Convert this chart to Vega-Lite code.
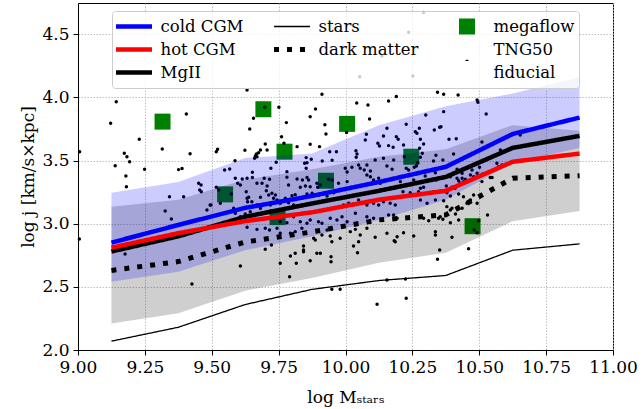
{
"$schema":"https://vega.github.io/schema/vega-lite/v6.json",
"width":535,"height":347,
"autosize":{"type":"none"},
"padding":{"left":78,"top":3,"right":29,"bottom":59},
"config":{
 "font":"DejaVu Serif",
 "view":{"stroke":"black","strokeWidth":1},
 "axis":{"labelFont":"DejaVu Serif","titleFont":"DejaVu Serif","labelFontSize":17,"titleFontSize":17,"titleFontWeight":"normal","labelColor":"black","titleColor":"black","domainColor":"black","tickColor":"black","tickSize":5,"gridColor":"#b0b0b0","gridDash":[1.5,1.5],"gridWidth":0.8,"labelPadding":4,"labelOverlap":false,"labelFlush":false,"labelBound":false}
},
"datasets":{
"megaflow":[
{"series":"megaflow","logM":9.316,"logj":3.808},
{"series":"megaflow","logM":9.693,"logj":3.906},
{"series":"megaflow","logM":9.772,"logj":3.57},
{"series":"megaflow","logM":10.006,"logj":3.79},
{"series":"megaflow","logM":10.246,"logj":3.53},
{"series":"megaflow","logM":9.927,"logj":3.34},
{"series":"megaflow","logM":9.55,"logj":3.232},
{"series":"megaflow","logM":9.746,"logj":3.052},
{"series":"megaflow","logM":10.475,"logj":2.98}
],
"tng":[
{"logM":9.006,"logj":3.57},{"logM":9.143,"logj":3.966},{"logM":9.122,"logj":3.795},{"logM":9.139,"logj":3.459},{"logM":9.173,"logj":3.557},{"logM":9.183,"logj":3.53},{"logM":9.193,"logj":3.491},{"logM":9.179,"logj":3.378},{"logM":9.181,"logj":3.293},{"logM":9.229,"logj":3.668},
{"logM":9.249,"logj":3.431},{"logM":9.315,"logj":3.591},{"logM":9.405,"logj":3.869},{"logM":9.419,"logj":3.554},{"logM":9.376,"logj":3.428},{"logM":9.389,"logj":3.436},{"logM":9.455,"logj":3.267},{"logM":9.461,"logj":3.253},{"logM":9.517,"logj":3.57},{"logM":9.522,"logj":3.589},
{"logM":9.548,"logj":3.425},{"logM":9.567,"logj":3.433},{"logM":9.587,"logj":3.499},{"logM":9.632,"logj":4.059},{"logM":9.642,"logj":3.75},{"logM":9.656,"logj":3.834},{"logM":9.667,"logj":3.552},{"logM":9.675,"logj":3.562},{"logM":9.682,"logj":3.583},{"logM":9.7,"logj":3.631},
{"logM":9.698,"logj":3.922},{"logM":9.751,"logj":3.922},{"logM":9.761,"logj":3.689},{"logM":9.779,"logj":3.8},{"logM":9.741,"logj":3.486},{"logM":9.819,"logj":3.61},{"logM":9.868,"logj":3.847},{"logM":9.888,"logj":3.908},{"logM":9.868,"logj":3.629},{"logM":9.847,"logj":3.478},
{"logM":9.853,"logj":3.523},{"logM":9.342,"logj":3.214},{"logM":9.395,"logj":3.214},{"logM":9.497,"logj":3.148},{"logM":9.517,"logj":3.288},{"logM":9.526,"logj":3.267},{"logM":9.588,"logj":3.359},{"logM":9.597,"logj":3.32},{"logM":9.573,"logj":3.235},{"logM":9.912,"logj":4.025},
{"logM":10.19,"logj":4.006},{"logM":10.042,"logj":3.956},{"logM":10.084,"logj":3.94},{"logM":10.161,"logj":3.971},{"logM":10.09,"logj":3.829},{"logM":9.923,"logj":3.784},{"logM":10.004,"logj":3.721},{"logM":9.927,"logj":3.71},{"logM":10.155,"logj":3.755},{"logM":10.078,"logj":3.708},
{"logM":10.074,"logj":3.663},{"logM":10.142,"logj":3.694},{"logM":10.19,"logj":3.689},{"logM":10.197,"logj":3.668},{"logM":9.77,"logj":3.637},{"logM":9.903,"logj":3.61},{"logM":10.121,"logj":3.637},{"logM":10.127,"logj":3.615},{"logM":10.161,"logj":3.618},{"logM":10.178,"logj":3.605},
{"logM":9.624,"logj":3.581},{"logM":9.663,"logj":3.536},{"logM":9.66,"logj":3.518},{"logM":9.941,"logj":3.57},{"logM":9.966,"logj":3.57},{"logM":10.039,"logj":3.578},{"logM":10.043,"logj":3.552},{"logM":10.04,"logj":3.526},{"logM":9.721,"logj":3.439},{"logM":9.856,"logj":3.483},
{"logM":9.872,"logj":3.51},{"logM":9.913,"logj":3.496},{"logM":9.95,"logj":3.502},{"logM":9.853,"logj":3.439},{"logM":9.652,"logj":3.407},{"logM":9.652,"logj":3.365},{"logM":9.696,"logj":3.359},{"logM":9.716,"logj":3.352},{"logM":9.781,"logj":3.412},{"logM":9.781,"logj":3.367},
{"logM":9.819,"logj":3.354},{"logM":9.839,"logj":3.346},{"logM":9.856,"logj":3.365},{"logM":9.862,"logj":3.346},{"logM":9.999,"logj":3.439},{"logM":10.006,"logj":3.409},{"logM":10.024,"logj":3.447},{"logM":10.049,"logj":3.465},{"logM":10.055,"logj":3.439},{"logM":10.07,"logj":3.425},
{"logM":10.08,"logj":3.465},{"logM":10.093,"logj":3.417},{"logM":10.111,"logj":3.504},{"logM":10.142,"logj":3.518},{"logM":10.155,"logj":3.457},{"logM":10.174,"logj":3.431},{"logM":10.18,"logj":3.504},{"logM":10.08,"logj":3.386},{"logM":10.093,"logj":3.372},{"logM":10.105,"logj":3.346},
{"logM":10.124,"logj":3.359},{"logM":10.13,"logj":3.32},{"logM":9.614,"logj":3.354},{"logM":9.607,"logj":3.306},{"logM":9.707,"logj":3.298},{"logM":9.787,"logj":3.306},{"logM":9.831,"logj":3.288},{"logM":9.85,"logj":3.298},{"logM":9.868,"logj":3.293},{"logM":9.893,"logj":3.32},
{"logM":9.896,"logj":3.288},{"logM":9.906,"logj":3.306},{"logM":9.937,"logj":3.352},{"logM":9.95,"logj":3.346},{"logM":10.006,"logj":3.333},{"logM":9.974,"logj":3.32},{"logM":10.344,"logj":4.04},{"logM":10.367,"logj":4.025},{"logM":10.421,"logj":4.019},{"logM":10.492,"logj":3.979},
{"logM":10.495,"logj":3.961},{"logM":10.3,"logj":3.861},{"logM":10.367,"logj":3.887},{"logM":10.526,"logj":3.869},{"logM":10.227,"logj":3.787},{"logM":10.276,"logj":3.755},{"logM":10.261,"logj":3.728},{"logM":10.267,"logj":3.716},{"logM":10.332,"logj":3.742},{"logM":10.352,"logj":3.763},
{"logM":10.357,"logj":3.768},{"logM":10.28,"logj":3.668},{"logM":10.292,"logj":3.631},{"logM":10.217,"logj":3.623},{"logM":10.387,"logj":3.668},{"logM":10.414,"logj":3.673},{"logM":10.51,"logj":3.647},{"logM":10.277,"logj":3.597},{"logM":10.287,"logj":3.557},{"logM":10.28,"logj":3.526},
{"logM":10.27,"logj":3.483},{"logM":10.265,"logj":3.457},{"logM":10.257,"logj":3.447},{"logM":10.338,"logj":3.541},{"logM":10.329,"logj":3.496},{"logM":10.364,"logj":3.504},{"logM":10.404,"logj":3.552},{"logM":10.579,"logj":3.584},{"logM":10.653,"logj":3.702},{"logM":10.227,"logj":3.439},
{"logM":10.236,"logj":3.425},{"logM":10.22,"logj":3.53},{"logM":10.255,"logj":3.346},{"logM":10.286,"logj":3.333},{"logM":10.298,"logj":3.378},{"logM":10.336,"logj":3.404},{"logM":10.339,"logj":3.346},{"logM":10.205,"logj":3.333},{"logM":10.417,"logj":3.431},{"logM":10.429,"logj":3.412},
{"logM":10.454,"logj":3.439},{"logM":10.473,"logj":3.425},{"logM":10.467,"logj":3.386},{"logM":10.436,"logj":3.359},{"logM":10.423,"logj":3.34},{"logM":10.441,"logj":3.333},{"logM":10.479,"logj":3.372},{"logM":10.501,"logj":3.447},{"logM":10.514,"logj":3.394},{"logM":10.566,"logj":3.478},
{"logM":10.585,"logj":3.465},{"logM":10.541,"logj":3.365},{"logM":10.51,"logj":3.333},{"logM":10.377,"logj":3.298},{"logM":10.398,"logj":3.288},{"logM":10.41,"logj":3.28},{"logM":10.292,"logj":3.288},{"logM":10.28,"logj":3.28},{"logM":9.632,"logj":3.201},{"logM":9.682,"logj":3.209},
{"logM":9.713,"logj":3.227},{"logM":9.725,"logj":3.241},{"logM":9.738,"logj":3.227},{"logM":9.731,"logj":3.201},{"logM":9.8,"logj":3.222},{"logM":9.812,"logj":3.23},{"logM":9.856,"logj":3.235},{"logM":9.875,"logj":3.241},{"logM":9.899,"logj":3.227},{"logM":9.918,"logj":3.241},
{"logM":9.931,"logj":3.219},{"logM":9.956,"logj":3.245},{"logM":9.775,"logj":3.201},{"logM":9.787,"logj":3.166},{"logM":9.756,"logj":3.162},{"logM":9.806,"logj":3.148},{"logM":9.993,"logj":3.148},{"logM":10.012,"logj":3.162},{"logM":10.03,"logj":3.156},{"logM":10.049,"logj":3.188},
{"logM":10.08,"logj":3.148},{"logM":10.105,"logj":3.162},{"logM":10.124,"logj":3.148},{"logM":10.142,"logj":3.174},{"logM":10.167,"logj":3.162},{"logM":10.186,"logj":3.148},{"logM":9.632,"logj":3.024},{"logM":9.663,"logj":3.035},{"logM":9.707,"logj":3.043},{"logM":9.781,"logj":3.008},
{"logM":9.806,"logj":3.055},{"logM":9.831,"logj":3.016},{"logM":9.856,"logj":3.003},{"logM":9.868,"logj":3.029},{"logM":9.899,"logj":3.016},{"logM":9.912,"logj":3.003},{"logM":9.943,"logj":3.043},{"logM":9.968,"logj":3.029},{"logM":9.987,"logj":3.055},{"logM":10.006,"logj":3.016},
{"logM":10.037,"logj":3.082},{"logM":10.08,"logj":3.055},{"logM":10.105,"logj":3.043},{"logM":10.161,"logj":3.069},{"logM":10.18,"logj":3.069},{"logM":10.193,"logj":3.043},{"logM":9.632,"logj":2.971},{"logM":9.669,"logj":2.955},{"logM":9.7,"logj":2.963},{"logM":9.756,"logj":2.924},
{"logM":9.794,"logj":2.924},{"logM":9.812,"logj":2.937},{"logM":9.881,"logj":2.884},{"logM":9.912,"logj":2.911},{"logM":9.931,"logj":2.95},{"logM":9.943,"logj":2.903},{"logM":9.949,"logj":2.857},{"logM":9.98,"logj":2.884},{"logM":10.018,"logj":2.937},{"logM":10.037,"logj":2.955},
{"logM":10.055,"logj":2.911},{"logM":10.08,"logj":2.963},{"logM":10.111,"logj":2.892},{"logM":10.155,"logj":2.924},{"logM":10.186,"logj":2.857},{"logM":10.193,"logj":2.897},{"logM":9.7,"logj":2.797},{"logM":9.843,"logj":2.823},{"logM":9.843,"logj":2.778},{"logM":9.893,"logj":2.766},
{"logM":9.794,"logj":2.744},{"logM":9.816,"logj":2.686},{"logM":9.868,"logj":2.707},{"logM":9.946,"logj":2.739},{"logM":9.946,"logj":2.699},{"logM":10.045,"logj":2.77},{"logM":10.03,"logj":2.823},{"logM":10.049,"logj":2.857},{"logM":10.182,"logj":2.865},{"logM":9.756,"logj":2.686},
{"logM":9.791,"logj":2.58},{"logM":9.607,"logj":2.665},{"logM":9.949,"logj":2.481},{"logM":9.98,"logj":2.481},{"logM":10.155,"logj":2.554},{"logM":10.215,"logj":3.253},{"logM":10.242,"logj":3.245},{"logM":10.261,"logj":3.227},{"logM":10.273,"logj":3.253},{"logM":10.292,"logj":3.235},
{"logM":10.311,"logj":3.241},{"logM":10.329,"logj":3.253},{"logM":10.354,"logj":3.259},{"logM":10.379,"logj":3.245},{"logM":10.28,"logj":3.188},{"logM":10.305,"logj":3.162},{"logM":10.336,"logj":3.188},{"logM":10.367,"logj":3.182},{"logM":10.392,"logj":3.219},{"logM":10.423,"logj":3.235},
{"logM":10.441,"logj":3.214},{"logM":10.454,"logj":3.162},{"logM":10.479,"logj":3.227},{"logM":10.379,"logj":3.135},{"logM":10.398,"logj":3.122},{"logM":10.436,"logj":3.122},{"logM":10.292,"logj":3.043},{"logM":10.348,"logj":3.043},{"logM":10.392,"logj":3.008},{"logM":10.423,"logj":3.029},
{"logM":10.311,"logj":3.024},{"logM":10.364,"logj":3.035},{"logM":10.217,"logj":2.929},{"logM":10.255,"logj":2.903},{"logM":10.336,"logj":2.937},{"logM":10.336,"logj":2.911},{"logM":10.398,"logj":2.892},{"logM":10.531,"logj":3.069},{"logM":10.498,"logj":3.024},{"logM":10.492,"logj":2.929},
{"logM":10.481,"logj":2.95},{"logM":10.352,"logj":2.792},{"logM":10.344,"logj":2.718},{"logM":10.46,"logj":2.802},{"logM":10.227,"logj":2.409},{"logM":10.118,"logj":2.362},{"logM":10.224,"logj":2.562},{"logM":10.492,"logj":3.399},{"logM":10.529,"logj":3.399},{"logM":10.572,"logj":3.451},
{"logM":10.548,"logj":3.365},{"logM":10.417,"logj":3.359},{"logM":10.429,"logj":3.32},{"logM":10.448,"logj":3.352},{"logM":10.436,"logj":3.399},{"logM":10.392,"logj":3.372},{"logM":10.467,"logj":3.188},{"logM":10.492,"logj":3.162},{"logM":10.392,"logj":3.108},{"logM":10.411,"logj":3.077},
{"logM":10.354,"logj":3.055},{"logM":9.669,"logj":3.53},{"logM":9.707,"logj":3.584},{"logM":9.632,"logj":3.359},{"logM":9.704,"logj":3.261},{"logM":9.688,"logj":3.32},{"logM":9.669,"logj":3.32},{"logM":9.629,"logj":3.253},{"logM":9.638,"logj":3.209},{"logM":9.634,"logj":3.174},
{"logM":9.731,"logj":3.162},{"logM":9.744,"logj":3.188},{"logM":9.719,"logj":3.148},{"logM":9.349,"logj":3.037},{"logM":9.326,"logj":3.1},{"logM":9.451,"logj":3.32},{"logM":9.46,"logj":3.306},{"logM":9.176,"logj":2.76},{"logM":9.426,"logj":2.523},{"logM":9.723,"logj":2.831},
{"logM":9.482,"logj":3.108},{"logM":9.532,"logj":3.162},{"logM":9.582,"logj":3.122},{"logM":9.65,"logj":3.174},{"logM":9.669,"logj":3.148},{"logM":9.682,"logj":3.122},{"logM":9.588,"logj":3.082},{"logM":9.607,"logj":3.055},{"logM":9.625,"logj":3.077},{"logM":9.644,"logj":3.095},
{"logM":9.744,"logj":2.963},{"logM":9.716,"logj":2.95},{"logM":9.756,"logj":3.016},{"logM":9.005,"logj":2.879},{"logM":9.494,"logj":3.148},{"logM":9.812,"logj":2.766},{"logM":9.837,"logj":2.963},{"logM":9.843,"logj":2.792},{"logM":9.887,"logj":2.871},{"logM":9.906,"logj":2.766},
{"logM":10.292,"logj":4.671},{"logM":10.236,"logj":4.515},{"logM":10.136,"logj":4.328},{"logM":10.053,"logj":4.164},{"logM":10.252,"logj":4.169}
],
"bands":[
{"band":"cold CGM","logM":9.125,"lo":2.54,"hi":3.245},{"band":"cold CGM","logM":9.375,"lo":2.62,"hi":3.33},{"band":"cold CGM","logM":9.625,"lo":2.79,"hi":3.52},{"band":"cold CGM","logM":9.875,"lo":2.9,"hi":3.555},{"band":"cold CGM","logM":10.125,"lo":3.03,"hi":3.78},{"band":"cold CGM","logM":10.375,"lo":3.19,"hi":3.93},{"band":"cold CGM","logM":10.625,"lo":3.48,"hi":4.03},{"band":"cold CGM","logM":10.875,"lo":3.6,"hi":4.16},
{"band":"dark matter","logM":9.125,"lo":2.21,"hi":3.135},{"band":"dark matter","logM":9.375,"lo":2.29,"hi":3.19},{"band":"dark matter","logM":9.625,"lo":2.47,"hi":3.35},{"band":"dark matter","logM":9.875,"lo":2.57,"hi":3.43},{"band":"dark matter","logM":10.125,"lo":2.69,"hi":3.53},{"band":"dark matter","logM":10.375,"lo":2.77,"hi":3.59},{"band":"dark matter","logM":10.625,"lo":3.02,"hi":3.78},{"band":"dark matter","logM":10.875,"lo":3.1,"hi":3.735}
],
"lines":[
{"series":"stars","logM":9.125,"logj":2.07},{"series":"stars","logM":9.375,"logj":2.18},{"series":"stars","logM":9.625,"logj":2.36},{"series":"stars","logM":9.875,"logj":2.48},{"series":"stars","logM":10.125,"logj":2.55},{"series":"stars","logM":10.375,"logj":2.59},{"series":"stars","logM":10.625,"logj":2.79},{"series":"stars","logM":10.875,"logj":2.84},
{"series":"dark matter","logM":9.125,"logj":2.63},{"series":"dark matter","logM":9.375,"logj":2.7},{"series":"dark matter","logM":9.625,"logj":2.855},{"series":"dark matter","logM":9.875,"logj":2.935},{"series":"dark matter","logM":10.125,"logj":3.03},{"series":"dark matter","logM":10.375,"logj":3.07},{"series":"dark matter","logM":10.625,"logj":3.36},{"series":"dark matter","logM":10.875,"logj":3.38},
{"series":"MgII","logM":9.125,"logj":2.78},{"series":"MgII","logM":9.375,"logj":2.9},{"series":"MgII","logM":9.625,"logj":3.055},{"series":"MgII","logM":9.875,"logj":3.16},{"series":"MgII","logM":10.125,"logj":3.26},{"series":"MgII","logM":10.375,"logj":3.37},{"series":"MgII","logM":10.625,"logj":3.6},{"series":"MgII","logM":10.875,"logj":3.695},
{"series":"cold CGM","logM":9.125,"logj":2.85},{"series":"cold CGM","logM":9.375,"logj":2.99},{"series":"cold CGM","logM":9.625,"logj":3.125},{"series":"cold CGM","logM":9.875,"logj":3.22},{"series":"cold CGM","logM":10.125,"logj":3.33},{"series":"cold CGM","logM":10.375,"logj":3.45},{"series":"cold CGM","logM":10.625,"logj":3.71},{"series":"cold CGM","logM":10.875,"logj":3.84},
{"series":"hot CGM","logM":9.125,"logj":2.81},{"series":"hot CGM","logM":9.375,"logj":2.925},{"series":"hot CGM","logM":9.625,"logj":3.02},{"series":"hot CGM","logM":9.875,"logj":3.09},{"series":"hot CGM","logM":10.125,"logj":3.19},{"series":"hot CGM","logM":10.375,"logj":3.26},{"series":"hot CGM","logM":10.625,"logj":3.49},{"series":"hot CGM","logM":10.875,"logj":3.555}
]
},
"layer":[
{"data":{"name":"megaflow"},
 "mark":{"type":"point","filled":true,"opacity":1,"strokeWidth":0,"size":1296},
 "encoding":{
  "x":{"field":"logM","type":"quantitative","title":"log Mₛₜₐᵣₛ","scale":{"domain":[9,11],"nice":false,"zero":false},"axis":{"values":[9,9.25,9.5,9.75,10,10.25,10.5,10.75,11],"format":".2f","grid":true,"titlePadding":14}},
  "y":{"field":"logj","type":"quantitative","title":"log j [km/s×kpc]","scale":{"domain":[2,4.747],"nice":false,"zero":false},"axis":{"values":[2,2.5,3,3.5,4,4.5],"format":".1f","grid":true}},
  "color":{"field":"series","type":"nominal","scale":{"domain":["cold CGM","stars","megaflow","hot CGM","dark matter","TNG50","MgII"," ","fiducial"],"range":["blue","black","green","red","black","black","black","white","white"]},
   "legend":{"title":null,"orient":"none","direction":"horizontal","gridAlign":"each","legendX":34,"legendY":8,"columns":3,"padding":4,"fillColor":"rgba(255,255,255,0.8)","strokeColor":"#cccccc","cornerRadius":3,"labelFont":"DejaVu Serif","labelFontSize":16.5,"labelColor":"black","labelOffset":6,"symbolOffset":-2.5,"symbolSize":1296,"columnPadding":30,"rowPadding":0,"clipHeight":23,"symbolOpacity":1,"labelLimit":300,
    "encode":{
     "symbols":{"update":{"fill":{"scale":"color","field":"value"},"stroke":{"scale":"color","field":"value"},"opacity":{"value":1},"y":{"signal":"datum.value === 'TNG50' ? 24 : 11.5"}}}}}},
  "shape":{"field":"series","type":"nominal","scale":{"domain":["cold CGM","stars","megaflow","hot CGM","dark matter","TNG50","MgII"," ","fiducial"],"range":["M-1,0H1","M-1,0H1","M-0.444,-0.444H0.444V0.444H-0.444Z","M-1,0H1","M-1,0H1","M-0.12,0A0.12,0.12,0,1,0,0.12,0A0.12,0.12,0,1,0,-0.12,0Z","M-1,0H1","M0,0","M0,0"]}}
 }},
{"data":{"name":"tng"},
 "mark":{"type":"circle","color":"black","size":12,"opacity":1},
 "encoding":{"x":{"field":"logM","type":"quantitative","title":"log Mₛₜₐᵣₛ"},"y":{"field":"logj","type":"quantitative","title":"log j [km/s×kpc]"}}},
{"data":{"name":"bands"},"transform":[{"filter":"datum.band == 'dark matter'"}],
 "mark":{"type":"area","color":"black","opacity":0.19},
 "encoding":{"x":{"field":"logM","type":"quantitative","title":"log Mₛₜₐᵣₛ"},"y":{"field":"hi","type":"quantitative","title":"log j [km/s×kpc]"},"y2":{"field":"lo"}}},
{"data":{"name":"bands"},"transform":[{"filter":"datum.band == 'cold CGM'"}],
 "mark":{"type":"area","color":"blue","opacity":0.2},
 "encoding":{"x":{"field":"logM","type":"quantitative","title":"log Mₛₜₐᵣₛ"},"y":{"field":"hi","type":"quantitative","title":"log j [km/s×kpc]"},"y2":{"field":"lo"}}},
{"data":{"name":"lines"},
 "mark":{"type":"line","opacity":1},
 "encoding":{
  "x":{"field":"logM","type":"quantitative","title":"log Mₛₜₐᵣₛ"},
  "y":{"field":"logj","type":"quantitative","title":"log j [km/s×kpc]"},
  "color":{"field":"series","type":"nominal"},
  "strokeDash":{"field":"series","type":"nominal","scale":{"domain":["cold CGM","stars","megaflow","hot CGM","dark matter","TNG50","MgII"," ","fiducial"],"range":[[1,0],[1,0],[1,0],[1,0],[5,8],[1,0],[1,0],[1,0],[1,0]]}},
  "strokeWidth":{"field":"series","type":"nominal","scale":{"type":"ordinal","domain":["cold CGM","stars","megaflow","hot CGM","dark matter","TNG50","MgII"," ","fiducial"],"range":[4.5,1.3,0,4.5,5,0,4.5,0,0]}}
 }}
]
}
